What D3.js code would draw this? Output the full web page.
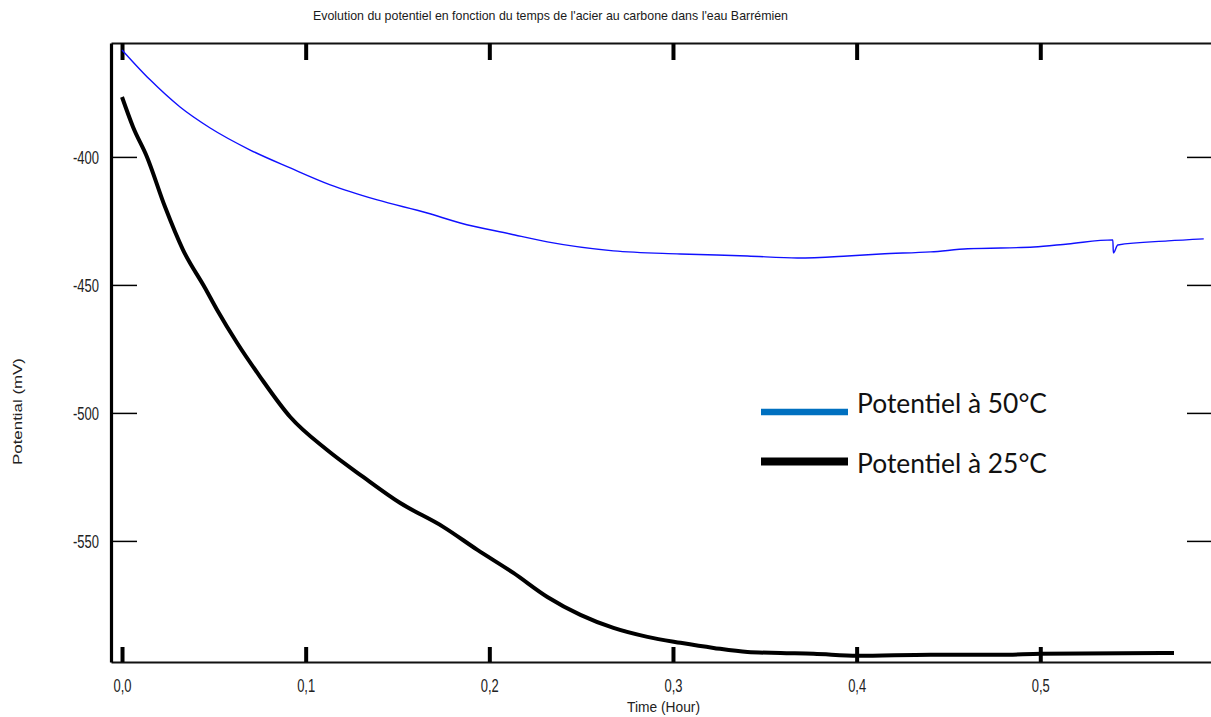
<!DOCTYPE html>
<html>
<head>
<meta charset="utf-8">
<script src="https://cdn.jsdelivr.net/npm/d3@7"></script>
<style>
  body { margin: 0; background: #fff; }
  svg { display: block; }
  .tick text { font-family: "Liberation Sans Narrow", "Arial Narrow", "Liberation Sans", sans-serif; fill: #222; }
</style>
</head>
<body>
<div id="chart"></div>
<script>
// time (hour) / potential (mV)
var t50 = [0, 0.0153, 0.0316, 0.048, 0.0698, 0.0916, 0.1134, 0.139, 0.1662, 0.1842, 0.2114, 0.2316, 0.2676, 0.304, 0.3406, 0.3678, 0.395, 0.413, 0.4403, 0.4605, 0.4965, 0.515, 0.5395, 0.5398, 0.5422, 0.5695, 0.589];
var v50 = [-358.2, -369.9, -380.5, -388.7, -397.3, -404.3, -410.9, -416.8, -421.9, -425.8, -430.1, -433.2, -436.7, -437.9, -438.7, -439.5, -438.7, -437.9, -437.1, -435.9, -435.2, -434.0, -432.4, -437.5, -434.4, -432.8, -432.0];

var t25 = [0, 0.006, 0.0136, 0.0234, 0.0332, 0.0452, 0.0518, 0.0627, 0.0752, 0.0916, 0.1117, 0.1313, 0.1515, 0.1749, 0.1935, 0.2131, 0.2316, 0.2496, 0.2676, 0.2861, 0.3041, 0.3221, 0.3406, 0.3586, 0.3766, 0.4005, 0.4403, 0.4785, 0.5003, 0.5728];
var v25 = [-376.6, -388.3, -400.0, -419.5, -436.3, -451.2, -459.8, -472.7, -485.9, -501.6, -514.5, -525.0, -535.2, -544.5, -553.5, -562.5, -571.9, -578.9, -584.0, -587.5, -589.8, -591.8, -593.4, -593.8, -594.1, -594.9, -594.5, -594.5, -594.1, -593.8];

var xTicks = [0, 0.1, 0.2, 0.3, 0.4, 0.5];
var yTicks = [-400, -450, -500, -550];
var legendLabels = ["Potentiel à 50°C", "Potentiel à 25°C"];

var W = 1211, H = 717;
var mLeft = 111, mRight = 1212, mTop = 43, mBottom = 662;

var svg = d3.select("#chart").append("svg")
    .attr("width", W)
    .attr("height", H);

var x = d3.scaleLinear().domain([-0.006, 0.5935]).range([mLeft, mRight]);
var y = d3.scaleLinear().domain([-597.3, -355.5]).range([mBottom, mTop]);

var fmtX = function(d) { return d3.format(".1f")(d).replace(".", ","); };
var fmtY = function(d) { return String(d); };

// title
svg.append("text")
    .attr("x", 313).attr("y", 20)
    .attr("textLength", 475).attr("lengthAdjust", "spacingAndGlyphs")
    .style("font-family", "'Liberation Sans', Arial, sans-serif")
    .style("font-size", "13.5px")
    .style("fill", "#1a1a1a")
    .text("Evolution du potentiel en fonction du temps  de l'acier au carbone dans l'eau Barrémien");

// bottom axis, ticks pointing up
var gx = svg.append("g")
    .attr("transform", "translate(0," + mBottom + ")")
    .call(d3.axisBottom(x).tickValues(xTicks).tickFormat(fmtX).tickSizeInner(-15).tickSizeOuter(0).tickPadding(17));
gx.select(".domain").attr("stroke", "#111").attr("stroke-width", 2.2);
gx.selectAll(".tick line").attr("stroke", "#000").attr("stroke-width", 4);
gx.selectAll(".tick text").style("font-size", "19px")
    .attr("textLength", 18).attr("lengthAdjust", "spacingAndGlyphs");

// top axis, ticks pointing down
var gt = svg.append("g")
    .attr("transform", "translate(0," + mTop + ")")
    .call(d3.axisTop(x).tickValues(xTicks).tickFormat("").tickSizeInner(-17).tickSizeOuter(0));
gt.select(".domain").attr("stroke", "#111").attr("stroke-width", 2.2);
gt.selectAll(".tick line").attr("stroke", "#000").attr("stroke-width", 4);

// left axis
var gy = svg.append("g")
    .attr("transform", "translate(" + mLeft + ",0)")
    .call(d3.axisLeft(y).tickValues(yTicks).tickFormat(fmtY).tickSizeInner(-26).tickSizeOuter(0).tickPadding(12));
gy.select(".domain").attr("stroke", "#000").attr("stroke-width", 3.2);
gy.selectAll(".tick line").attr("stroke", "#000").attr("stroke-width", 1.5);
gy.selectAll(".tick text").style("font-size", "19px")
    .attr("textLength", 26).attr("lengthAdjust", "spacingAndGlyphs");

// right axis (line sits just outside the window)
var gr = svg.append("g")
    .attr("transform", "translate(" + mRight + ",0)")
    .call(d3.axisRight(y).tickValues(yTicks).tickFormat("").tickSizeInner(-25).tickSizeOuter(0));
gr.select(".domain").attr("stroke", "#000").attr("stroke-width", 2);
gr.selectAll(".tick line").attr("stroke", "#000").attr("stroke-width", 1.5);

// axis titles
svg.append("text")
    .attr("x", 627).attr("y", 712)
    .attr("textLength", 73).attr("lengthAdjust", "spacingAndGlyphs")
    .style("font-family", "'Liberation Sans', Arial, sans-serif")
    .style("font-size", "14px")
    .style("fill", "#222")
    .text("Time (Hour)");

svg.append("text")
    .attr("transform", "translate(22,465) rotate(-90)")
    .attr("textLength", 107).attr("lengthAdjust", "spacingAndGlyphs")
    .style("font-family", "'Liberation Sans', Arial, sans-serif")
    .style("font-size", "12px")
    .style("fill", "#222")
    .text("Potential (mV)");

// curves
var line = d3.line()
    .curve(d3.curveMonotoneX)
    .x(function(d) { return x(d[0]); })
    .y(function(d) { return y(d[1]); });

svg.append("path")
    .datum(d3.zip(t50, v50))
    .attr("d", line)
    .attr("fill", "none")
    .attr("stroke", "#1010ff")
    .attr("stroke-width", 1.4);

svg.append("path")
    .datum(d3.zip(t25, v25))
    .attr("d", line)
    .attr("fill", "none")
    .attr("stroke", "#000")
    .attr("stroke-width", 4)
    .attr("stroke-linejoin", "round");

// legend
var legendColors = ["#0070c0", "#000"];
var legendWidths = [6.5, 8];
var lg = svg.append("g").attr("transform", "translate(761,412)");
legendLabels.forEach(function(lab, i) {
    lg.append("line")
        .attr("x1", 0).attr("x2", 87)
        .attr("y1", i * 49.5).attr("y2", i * 49.5)
        .attr("stroke", legendColors[i])
        .attr("stroke-width", legendWidths[i]);
    lg.append("text")
        .attr("x", 96).attr("y", 1 + i * 60)
        .attr("textLength", 190).attr("lengthAdjust", "spacingAndGlyphs")
        .style("font-family", "Lato, 'Open Sans', sans-serif")
        .style("font-size", "26px")
        .style("fill", "#111")
        .text(lab);
});
</script>
</body>
</html>
